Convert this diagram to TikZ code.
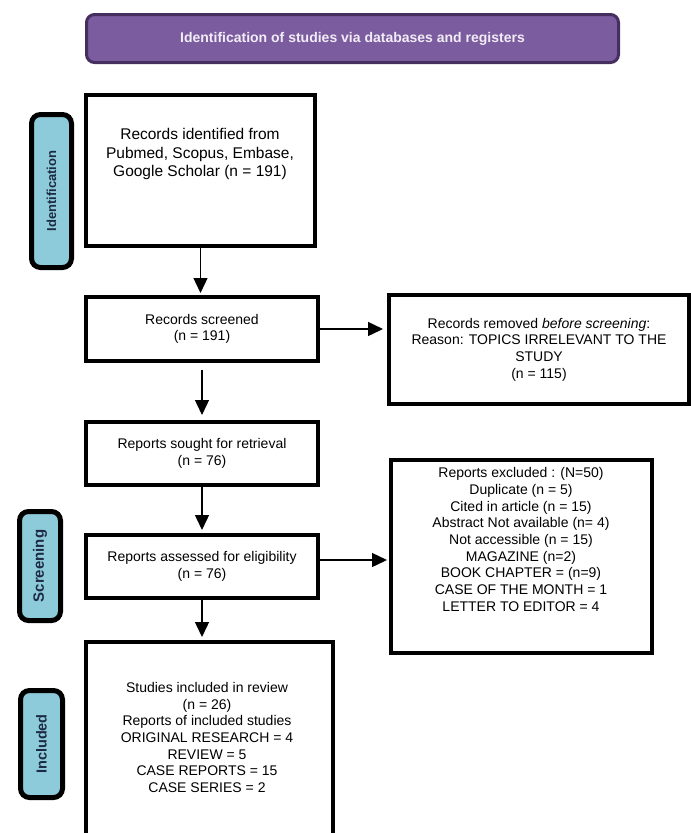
\documentclass[tikz,border=0pt]{standalone}
\usepackage{fontspec}
\setmainfont{Liberation Sans}
\usetikzlibrary{arrows.meta}
\definecolor{titlefill}{HTML}{7B5C9F}
\definecolor{titledraw}{HTML}{452F5E}
\definecolor{titletext}{HTML}{F2ECF7}
\definecolor{phasefill}{HTML}{8ECBDA}
\definecolor{phasetext}{HTML}{1C2B45}
\tikzset{
  box/.style={draw=black,line width=4pt,shape=rectangle,inner sep=0pt},
  boxtext/.style={align=center,font=\fontsize{14}{16.7}\selectfont,inner sep=0pt},
  phase/.style={draw=black,fill=phasefill,line width=5pt,rounded corners=9pt,inner sep=0pt,
                rotate=90,text=phasetext,font=\bfseries\fontsize{14}{16}\selectfont},
  flow/.style={line width=1.4pt,-{Triangle[length=15pt,width=14pt]}}
}

\begin{document}
\begin{tikzpicture}[x=1pt,y=-1pt]
	\useasboundingbox (0,0) rectangle (691,833);
	\clip (0,0) rectangle (691,833);
	\node[draw=titledraw,line width=3pt,fill=titlefill,rounded corners=8pt,minimum width=532pt,minimum height=48pt,
	      text=titletext,font=\bfseries\fontsize{14}{16}\selectfont] (title) at (352.5,38.5)
	      {Identification of studies via databases and registers};
	% phases
	\node[phase,minimum width=153pt,minimum height=40pt,font=\bfseries\fontsize{13}{15}\selectfont] (identphase) at (51.5,191) {Identification};
	\node[phase,minimum width=109pt,minimum height=41pt,font=\bfseries\fontsize{15}{17}\selectfont] (screenphase) at (40,566) {Screening};
	\node[phase,minimum width=107pt,minimum height=42pt,font=\bfseries\fontsize{14.5}{17}\selectfont] (inclphase) at (41.5,744) {Included};
	% boxes
	\node[box,minimum width=229pt,minimum height=151pt] (records) at (200.5,170.5) {};
	\node[boxtext,font=\fontsize{15.5}{18.5}\selectfont] (recordstext) at (200,154) {Records identified from\\Pubmed, Scopus, Embase,\\Google Scholar (n = 191)};
	\node[box,boxtext,minimum width=232pt,minimum height=64pt] (screened) at (202,329) {Records screened\\(n = 191)};
	\node[box,boxtext,minimum width=300pt,minimum height=109pt] (removed) at (539,349.5)
	      {Records removed \textit{before screening}:\\Reason: TOPICS IRRELEVANT TO THE\\STUDY\\(n = 115)};
	\node[box,boxtext,minimum width=232pt,minimum height=63pt] (sought) at (202,453.5) {Reports sought for retrieval\\(n = 76)};
	\node[box,boxtext,minimum width=232pt,minimum height=63pt] (assessed) at (202,566.5) {Reports assessed for eligibility\\(n = 76)};
	\node[box,minimum width=261pt,minimum height=193pt] (excluded) at (521.5,556.5) {};
	\node[boxtext] (excludedtext) at (521,539.5) {Reports excluded : (N=50)\\Duplicate (n = 5)\\Cited in article (n = 15)\\Abstract Not available (n= 4)\\Not accessible (n = 15)\\MAGAZINE (n=2)\\BOOK CHAPTER = (n=9)\\CASE OF THE MONTH = 1\\LETTER TO EDITOR = 4};
	\node[box,minimum width=247pt,minimum height=203pt] (included) at (209.5,743.5) {};
	\node[boxtext] (includedtext) at (207,737.5) {Studies included in review\\(n = 26)\\Reports of included studies\\ORIGINAL RESEARCH = 4\\REVIEW = 5\\CASE REPORTS = 15\\CASE SERIES = 2};
	% arrows
	\draw[flow,shorten >=2pt] (records.south) -- (records.south |- screened.north);
	\draw[flow,shorten >=4pt] (screened.east) -- (removed.west |- screened.east);
	\draw[flow,shorten <=7pt,shorten >=5pt] (screened.south) -- (sought.north);
	\draw[flow,shorten >=3pt] (sought.south) -- (assessed.north);
	\draw[flow,shorten >=2pt] ([yshift=6.5pt]assessed.east) -- ([yshift=6.5pt]assessed.east -| excluded.west);
	\draw[flow,shorten >=3pt] (assessed.south) -- (assessed.south |- included.north);
\end{tikzpicture}
\end{document}
